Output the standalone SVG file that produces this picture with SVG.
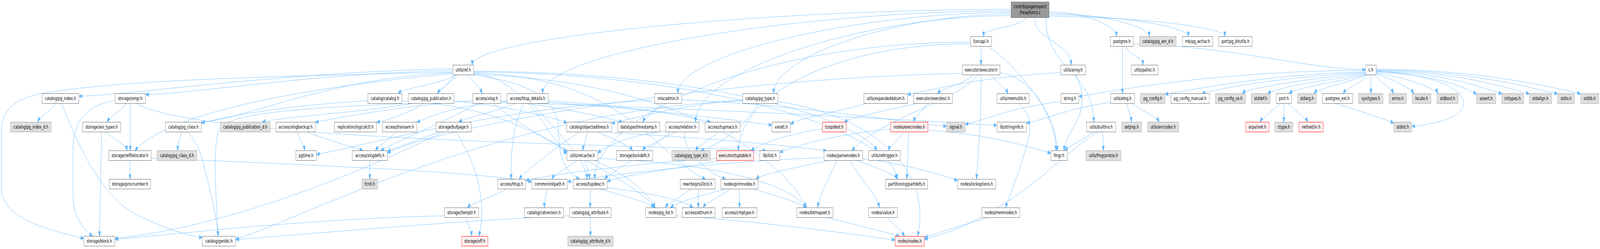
<svg xmlns="http://www.w3.org/2000/svg" width="6349" height="637" viewBox="0 0 6349 637" preserveAspectRatio="none">
<style>
svg{width:100vw;height:100vh}
.n rect{fill:#ffffff;stroke:#666666;stroke-width:1}
.g rect{fill:#e0e0e0;stroke:#999999;stroke-width:1}
.r rect{fill:#fff0f0;stroke:#ff0000;stroke-width:1}
.root rect{fill:#999999;stroke:#666666;stroke-width:1}
text{font-family:"DejaVu Sans","Liberation Sans",sans-serif;font-size:13px;text-anchor:middle;fill:#000000}
#edges path{fill:none;stroke:#63b8ff;stroke-width:1;marker-end:url(#arr)}
</style>
<defs>
<marker id="arr" viewBox="0 0 13 10" refX="13" refY="5" markerWidth="13" markerHeight="10" markerUnits="userSpaceOnUse" orient="auto">
<path d="M0,0 L13,5 L0,10 z" fill="#63b8ff" stroke="#63b8ff" stroke-width="1"/>
</marker>
</defs>
<rect width="6349" height="637" fill="#ffffff"/>
<g id="edges">
<path d="M4068,45 C4068,69 3903,69 3903,93.5"/>
<path d="M4163,30 C4283,30 4430,62 4430,93.5"/>
<path d="M4163,34 C4342,34 4560,64 4560,93.5"/>
<path d="M4163,38 C4411,38 4715,66 4715,93.5"/>
<path d="M4163,42 C4477,42 4860,68 4860,93.5"/>
<path d="M4105,45 C4105,106 4250,106 4250,166.5"/>
<path d="M4012,24 C3050,24 1874,95 1874,166.5"/>
<path d="M4012,28 C3175,28 2153,134 2153,239.5"/>
<path d="M4012,32 C3417,32 2690,136 2690,239.5"/>
<path d="M4012,36 C3588,36 3070,138 3070,239.5"/>
<path d="M4012,40 C3449,40 2760,176 2760,312.5"/>
<path d="M4150,45 C4150,180 4340,180 4340,312.5"/>
<path d="M3893,118.5 C3893,142 3893,142 3893,166.5"/>
<path d="M3921,118.5 C4000,150 4195,280 4195,385.5"/>
<path d="M3851,108 C3000,108 2360,300 2360,458.5"/>
<path d="M3851,112 C3300,112 2930,250 2930,385.5"/>
<path d="M4454,118.5 C4454,180 4454,180 4454,239.5"/>
<path d="M4470,118.5 C4470,142 4535,142 4535,166.5"/>
<path d="M4498,112 C4900,120 5200,178 5419,178"/>
<path d="M1797,176 C1100,185 500,245 313,246"/>
<path d="M1797,180 C1200,190 800,238 577,242"/>
<path d="M1797,184 C1200,195 500,200 160,240 C40,255 5,290 5,340 L5,480 C5,560 200,590 333,610"/>
<path d="M1810,191.5 C1750,215 1600,225 1580,239.5"/>
<path d="M1817,191.5 C1790,210 1750,225 1735,239.5"/>
<path d="M1854,191.5 C1880,210 1905,225 1914,239.5"/>
<path d="M1797,186 C1300,200 1000,300 799,313"/>
<path d="M1797,188 C1100,230 650,300 535,385.5"/>
<path d="M1805,191.5 C1700,280 1550,305 1494,313"/>
<path d="M1870,191.5 C2050,205 2216,240 2216,330 C2216,400 2240,440 2300,458.5"/>
<path d="M1880,188 C2100,200 2200,380 2250,392"/>
<path d="M1880,182 C2800,185 3400,300 3480,385.5"/>
<path d="M1880,184 C2900,190 3550,350 3560,458.5"/>
<path d="M1880,186 C2500,200 2600,400 2800,458.5"/>
<path d="M1880,190 C2800,210 3150,450 3200,531.5"/>
<path d="M3860,191.5 C3830,215 3740,225 3720,239.5"/>
<path d="M3935,191.5 C3960,215 3990,225 4000,239.5"/>
<path d="M3968,186 C4100,200 4190,300 4190,385.5"/>
<path d="M3893,191.5 C3893,330 3880,400 3875,458.5"/>
<path d="M3880,191.5 C3800,260 3500,300 3380,385.5"/>
<path d="M3818,188 C2800,200 1700,330 1537,392"/>
<path d="M4268,191.5 C4300,230 4300,270 4280,300 C4250,340 4225,360 4222,385.5"/>
<path d="M4209,186 C3900,195 3700,230 3601,242"/>
<path d="M5419,180 C4800,182 4400,235 4281,247"/>
<path d="M5419,184 C5000,190 4700,235 4623,241"/>
<path d="M5419,186 C5100,195 4800,230 4770,239.5"/>
<path d="M5419,188 C5200,200 4950,225 4930,239.5"/>
<path d="M5419,190 C5250,205 5060,225 5030,239.5"/>
<path d="M5422,191.5 C5300,210 5140,225 5115,239.5"/>
<path d="M5425,191.5 C5350,212 5230,225 5215,239.5"/>
<path d="M5430,191.5 C5400,212 5340,228 5330,239.5"/>
<path d="M5440,191.5 C5440,215 5440,215 5440,239.5"/>
<path d="M5455,191.5 C5480,212 5520,225 5530,239.5"/>
<path d="M5461,189 C5540,205 5600,228 5610,239.5"/>
<path d="M5461,187 C5600,200 5700,230 5705,239.5"/>
<path d="M5461,185 C5700,190 5820,225 5860,241"/>
<path d="M5461,183 C5750,185 5900,230 5960,240"/>
<path d="M5461,181 C5800,182 6000,230 6069,240"/>
<path d="M5461,179 C5850,180 6100,230 6181,240"/>
<path d="M5461,177 C5900,178 6200,230 6272,240"/>
<path d="M5461,182 C5700,190 5810,230 5808,265 C5805,300 5700,318 5602,323"/>
<path d="M220,264.5 C200,285 160,295 150,312.5"/>
<path d="M245,264.5 C300,360 400,500 530,545 C620,575 720,600 803,608"/>
<path d="M500,264.5 C480,285 440,295 425,312.5"/>
<path d="M517,264.5 C517,330 517,330 517,385.5"/>
<path d="M457,257 C330,270 290,320 290,380 L290,500 C290,560 340,590 368,604.5"/>
<path d="M540,264.5 C800,360 2500,370 3040,385.5"/>
<path d="M1460,258 C1100,270 850,305 799,315"/>
<path d="M1595,258 C2000,270 2200,370 2250,388"/>
<path d="M1640,264.5 C1400,290 1100,300 1040,312.5"/>
<path d="M1801,258 C2000,270 2200,300 2250,315"/>
<path d="M1640,264.5 C1200,275 900,290 870,330 C840,380 860,520 866,604.5"/>
<path d="M1876,258 C1600,270 1350,300 1251,313"/>
<path d="M1900,264.5 C1700,330 1550,370 1510,385.5"/>
<path d="M1987,258 C2200,270 2400,300 2470,312.5"/>
<path d="M1987,262 C2900,280 3700,310 3956,321"/>
<path d="M1960,264.5 C2100,350 2500,450 2600,531.5"/>
<path d="M2078,264.5 C2030,330 2028,400 2028,458.5"/>
<path d="M2012,258 C1800,270 1700,300 1654,313"/>
<path d="M2110,264.5 C2200,330 2320,400 2330,458.5"/>
<path d="M2175,258 C2500,270 2750,300 2820,312.5"/>
<path d="M2045,264.5 C1950,290 1850,300 1820,312.5"/>
<path d="M2175,262 C2600,280 2950,310 3063,320"/>
<path d="M2705,255 C3200,270 3600,315 3756,323"/>
<path d="M2630,264.5 C2600,285 2560,300 2550,312.5"/>
<path d="M2598,257 C2000,270 1400,380 1255,395"/>
<path d="M3010,264.5 C2950,330 2850,370 2780,385.5"/>
<path d="M2947,258 C2000,280 1200,560 935,612"/>
<path d="M2947,255 C2700,268 2500,305 2427,316"/>
<path d="M3087,260 C3500,300 3700,450 3640,604.5"/>
<path d="M3440,264.5 C3300,290 3180,300 3137,318"/>
<path d="M3680,264.5 C3660,285 3630,300 3625,312.5"/>
<path d="M3640,264.5 C3500,285 3380,300 3350,312.5"/>
<path d="M4040,264.5 C4090,290 4090,320 4085,340 C4060,420 4010,490 3990,531.5"/>
<path d="M4210,260 C4000,275 3900,310 3830,318"/>
<path d="M4470,264.5 C4480,285 4488,300 4490,312.5"/>
<path d="M4490,264.5 C4540,285 4590,300 4600,312.5"/>
<path d="M4407,262 C4250,275 4150,305 4073,315"/>
<path d="M5080,264.5 C5050,285 5010,300 5000,312.5"/>
<path d="M5094.5,264.5 C5094.5,290 5094.5,290 5094.5,312.5"/>
<path d="M5110,264.5 C5140,285 5180,300 5190,312.5"/>
<path d="M5300,264.5 C5400,285 5500,305 5531,315"/>
<path d="M403,337.5 C400,450 396,550 395,604.5"/>
<path d="M420,337.5 C460,360 500,370 505,385.5"/>
<path d="M720,337.5 C712,360 705,370 705,385.5"/>
<path d="M745,337.5 C790,370 800,400 815,440 C840,500 860,560 866,604.5"/>
<path d="M1180,337.5 C1190,360 1205,370 1210,385.5"/>
<path d="M1220,337.5 C1300,360 1400,375 1440,385.5"/>
<path d="M1570,337.5 C1540,360 1500,375 1490,385.5"/>
<path d="M1810,337.5 C1900,430 1930,520 1900,604.5"/>
<path d="M1760,337.5 C1400,450 900,580 456,610"/>
<path d="M1745,337.5 C1650,360 1560,380 1537,388"/>
<path d="M2330,337.5 C2325,360 2315,375 2312,385.5"/>
<path d="M2370,337.5 C2450,360 2500,375 2510,385.5"/>
<path d="M2300,337.5 C2200,380 2080,440 2060,458.5"/>
<path d="M2427,340 C2900,355 3200,380 3280,385.5"/>
<path d="M2642,335 C2500,345 2400,375 2372,392"/>
<path d="M2680,337.5 C2620,360 2560,375 2550,385.5"/>
<path d="M2720,337.5 C2700,380 2800,440 2880,458.5"/>
<path d="M2660,337.5 C2550,400 2420,440 2400,458.5"/>
<path d="M2850,337.5 C2810,360 2770,375 2760,385.5"/>
<path d="M3263,330 C3100,345 3000,375 2980,385.5"/>
<path d="M3590,337.5 C3560,360 3530,375 3525,385.5"/>
<path d="M3605,337.5 C3603,400 3600,440 3598,458.5"/>
<path d="M3534,330 C3300,345 3150,375 3094,390"/>
<path d="M3682,333 C3950,345 4100,380 4170,392"/>
<path d="M4340,337.5 C4290,360 4240,375 4225,385.5"/>
<path d="M4375,337.5 C4377,360 4378,360 4378,385.5"/>
<path d="M4355,337.5 C4200,400 4000,560 3668,612"/>
<path d="M516,410.5 C516,435 516,435 516,458.5"/>
<path d="M600,405 C1200,420 1900,440 2110,465"/>
<path d="M1467.5,410.5 C1467.5,435 1467.5,435 1467.5,458.5"/>
<path d="M2290,410.5 C2250,430 2200,445 2190,458.5"/>
<path d="M2320,410.5 C2330,430 2338,445 2340,458.5"/>
<path d="M2372,405 C2900,420 3150,480 3200,531.5"/>
<path d="M2360,410.5 C2500,450 2580,500 2600,531.5"/>
<path d="M2843,405 C2500,420 2200,445 2086,462"/>
<path d="M2860,410.5 C2700,430 2450,450 2409,465"/>
<path d="M3320,410.5 C3280,470 3250,500 3245,531.5"/>
<path d="M3370,410.5 C3430,470 3480,500 3490,531.5"/>
<path d="M3400,410.5 C3480,430 3550,445 3560,458.5"/>
<path d="M3423,406 C3600,420 3750,450 3800,462"/>
<path d="M3290,410.5 C3150,430 3020,445 3000,458.5"/>
<path d="M3270,403 C2800,415 2400,450 2252,465"/>
<path d="M2010,483.5 C1950,505 1870,520 1855,531.5"/>
<path d="M2170,483.5 C2165,505 2160,520 2160,531.5"/>
<path d="M2342,483.5 C2342,505 2342,505 2342,531.5"/>
<path d="M2380,483.5 C2500,505 2580,520 2595,531.5"/>
<path d="M2409,480 C2600,495 2720,515 2750,531.5"/>
<path d="M2770,483.5 C2771,505 2771,505 2771,531.5"/>
<path d="M2740,483.5 C2700,505 2650,520 2640,531.5"/>
<path d="M2900,483.5 C2850,505 2800,520 2790,531.5"/>
<path d="M2934.5,483.5 C2934.5,505 2934.5,505 2934.5,531.5"/>
<path d="M2880,483.5 C2750,505 2680,520 2660,531.5"/>
<path d="M2990,483.5 C3100,505 3180,520 3200,531.5"/>
<path d="M1764,552 C1200,560 700,600 456,612"/>
<path d="M1845,556.5 C1860,575 1870,590 1872,604.5"/>
<path d="M2342.5,556.5 C2342.5,580 2343,580 2343,604.5"/>
<path d="M2260,552 C1800,565 1200,600 935,613"/>
<path d="M2683,552 C3000,565 3400,600 3552,614"/>
<path d="M3280,556.5 C3400,575 3520,595 3570,604.5"/>
<path d="M3520,556.5 C3550,575 3580,595 3590,604.5"/>
<path d="M3920,556.5 C3800,580 3700,600 3668,608"/>
</g>
<g id="node-root" class="root"><rect x="4012" y="5" width="151" height="40"/><text x="4087.5" y="21">contrib/pageinspect</text><text x="4087.5" y="36">/heapfuncs.c</text></g>
<g id="node-funcapi" class="n"><rect x="3851" y="93.5" width="84" height="25"/><text x="3893" y="110.5">funcapi.h</text></g>
<g id="node-postgres" class="n"><rect x="4406" y="93.5" width="92" height="25"/><text x="4452" y="110.5">postgres.h</text></g>
<g id="node-pg_am_d" class="g"><rect x="4522" y="93.5" width="145" height="25"/><text x="4594.5" y="110.5">catalog/pg_am_d.h</text></g>
<g id="node-pg_wchar" class="n"><rect x="4692" y="93.5" width="120" height="25"/><text x="4752" y="110.5">mb/pg_wchar.h</text></g>
<g id="node-pg_bitutils" class="n"><rect x="4836" y="93.5" width="133" height="25"/><text x="4902.5" y="110.5">port/pg_bitutils.h</text></g>
<g id="node-rel" class="n"><rect x="1797" y="166.5" width="83" height="25"/><text x="1838.5" y="183.5">utils/rel.h</text></g>
<g id="node-executor" class="n"><rect x="3818" y="166.5" width="150" height="25"/><text x="3893" y="183.5">executor/executor.h</text></g>
<g id="node-array" class="n"><rect x="4209" y="166.5" width="99" height="25"/><text x="4258.5" y="183.5">utils/array.h</text></g>
<g id="node-palloc" class="n"><rect x="4489" y="166.5" width="106" height="25"/><text x="4542" y="183.5">utils/palloc.h</text></g>
<g id="node-c" class="n"><rect x="5419" y="166.5" width="42" height="25"/><text x="5440" y="183.5">c.h</text></g>
<g id="node-pg_index" class="n"><rect x="167" y="239.5" width="146" height="25"/><text x="240" y="256.5">catalog/pg_index.h</text></g>
<g id="node-smgr" class="n"><rect x="457" y="239.5" width="120" height="25"/><text x="517" y="256.5">storage/smgr.h</text></g>
<g id="node-catalog" class="n"><rect x="1460" y="239.5" width="135" height="25"/><text x="1527.5" y="256.5">catalog/catalog.h</text></g>
<g id="node-pg_publication" class="n"><rect x="1620" y="239.5" width="181" height="25"/><text x="1710.5" y="256.5">catalog/pg_publication.h</text></g>
<g id="node-xlog" class="n"><rect x="1876" y="239.5" width="111" height="25"/><text x="1931.5" y="256.5">access/xlog.h</text></g>
<g id="node-htup_details" class="n"><rect x="2012" y="239.5" width="163" height="25"/><text x="2093.5" y="256.5">access/htup_details.h</text></g>
<g id="node-miscadmin" class="n"><rect x="2598" y="239.5" width="107" height="25"/><text x="2651.5" y="256.5">miscadmin.h</text></g>
<g id="node-pg_type" class="n"><rect x="2947" y="239.5" width="140" height="25"/><text x="3017" y="256.5">catalog/pg_type.h</text></g>
<g id="node-expandeddatum" class="n"><rect x="3428" y="239.5" width="173" height="25"/><text x="3514.5" y="256.5">utils/expandeddatum.h</text></g>
<g id="node-execdesc" class="n"><rect x="3625" y="239.5" width="155" height="25"/><text x="3702.5" y="256.5">executor/execdesc.h</text></g>
<g id="node-memutils" class="n"><rect x="3956" y="239.5" width="128" height="25"/><text x="4020" y="256.5">utils/memutils.h</text></g>
<g id="node-string" class="n"><rect x="4210" y="239.5" width="71" height="25"/><text x="4245.5" y="256.5">string.h</text></g>
<g id="node-elog" class="n"><rect x="4407" y="239.5" width="95" height="25"/><text x="4454.5" y="256.5">utils/elog.h</text></g>
<g id="node-pg_config" class="g"><rect x="4526" y="239.5" width="97" height="25"/><text x="4574.5" y="256.5">pg_config.h</text></g>
<g id="node-pg_config_manual" class="n"><rect x="4646" y="239.5" width="153" height="25"/><text x="4722.5" y="256.5">pg_config_manual.h</text></g>
<g id="node-pg_config_os" class="g"><rect x="4823" y="239.5" width="119" height="25"/><text x="4882.5" y="256.5">pg_config_os.h</text></g>
<g id="node-stddef" class="g"><rect x="4965" y="239.5" width="75" height="25"/><text x="5002.5" y="256.5">stddef.h</text></g>
<g id="node-port" class="n"><rect x="5064" y="239.5" width="61" height="25"/><text x="5094.5" y="256.5">port.h</text></g>
<g id="node-stdarg" class="g"><rect x="5149" y="239.5" width="75" height="25"/><text x="5186.5" y="256.5">stdarg.h</text></g>
<g id="node-postgres_ext" class="n"><rect x="5248" y="239.5" width="120" height="25"/><text x="5308" y="256.5">postgres_ext.h</text></g>
<g id="node-sys_types" class="g"><rect x="5391" y="239.5" width="97" height="25"/><text x="5439.5" y="256.5">sys/types.h</text></g>
<g id="node-errno" class="g"><rect x="5512" y="239.5" width="69" height="25"/><text x="5546.5" y="256.5">errno.h</text></g>
<g id="node-locale" class="g"><rect x="5604" y="239.5" width="74" height="25"/><text x="5641" y="256.5">locale.h</text></g>
<g id="node-stdbool" class="g"><rect x="5702" y="239.5" width="84" height="25"/><text x="5744" y="256.5">stdbool.h</text></g>
<g id="node-assert" class="g"><rect x="5859" y="239.5" width="76" height="25"/><text x="5897" y="256.5">assert.h</text></g>
<g id="node-inttypes" class="g"><rect x="5959" y="239.5" width="87" height="25"/><text x="6002.5" y="256.5">inttypes.h</text></g>
<g id="node-stdalign" class="g"><rect x="6069" y="239.5" width="88" height="25"/><text x="6113" y="256.5">stdalign.h</text></g>
<g id="node-stdio" class="g"><rect x="6181" y="239.5" width="67" height="25"/><text x="6214.5" y="256.5">stdio.h</text></g>
<g id="node-stdlib" class="g"><rect x="6272" y="239.5" width="72" height="25"/><text x="6308" y="256.5">stdlib.h</text></g>
<g id="node-pg_index_d" class="g"><rect x="42" y="312.5" width="161" height="25"/><text x="122.5" y="329.5">catalog/pg_index_d.h</text></g>
<g id="node-aio_types" class="n"><rect x="328" y="312.5" width="151" height="25"/><text x="403.5" y="329.5">storage/aio_types.h</text></g>
<g id="node-pg_class" class="n"><rect x="656" y="312.5" width="143" height="25"/><text x="727.5" y="329.5">catalog/pg_class.h</text></g>
<g id="node-pg_publication_d" class="g"><rect x="875" y="312.5" width="197" height="25"/><text x="973.5" y="329.5">catalog/pg_publication_d.h</text></g>
<g id="node-xlogbackup" class="n"><rect x="1095" y="312.5" width="156" height="25"/><text x="1173" y="329.5">access/xlogbackup.h</text></g>
<g id="node-logicalctl" class="n"><rect x="1327" y="312.5" width="167" height="25"/><text x="1410.5" y="329.5">replication/logicalctl.h</text></g>
<g id="node-transam" class="n"><rect x="1518" y="312.5" width="136" height="25"/><text x="1586" y="329.5">access/transam.h</text></g>
<g id="node-bufpage" class="n"><rect x="1730" y="312.5" width="140" height="25"/><text x="1800" y="329.5">storage/bufpage.h</text></g>
<g id="node-objectaddress" class="n"><rect x="2249" y="312.5" width="178" height="25"/><text x="2338" y="329.5">catalog/objectaddress.h</text></g>
<g id="node-timestamp" class="n"><rect x="2451" y="312.5" width="167" height="25"/><text x="2534.5" y="329.5">datatype/timestamp.h</text></g>
<g id="node-relation" class="n"><rect x="2642" y="312.5" width="132" height="25"/><text x="2708" y="329.5">access/relation.h</text></g>
<g id="node-tupmacs" class="n"><rect x="2798" y="312.5" width="139" height="25"/><text x="2867.5" y="329.5">access/tupmacs.h</text></g>
<g id="node-varatt" class="n"><rect x="3063" y="312.5" width="74" height="25"/><text x="3100" y="329.5">varatt.h</text></g>
<g id="node-dest" class="r"><rect x="3263" y="312.5" width="95" height="25"/><text x="3310.5" y="329.5">tcop/dest.h</text></g>
<g id="node-execnodes" class="r"><rect x="3534" y="312.5" width="148" height="25"/><text x="3608" y="329.5">nodes/execnodes.h</text></g>
<g id="node-signal" class="g"><rect x="3756" y="312.5" width="74" height="25"/><text x="3793" y="329.5">signal.h</text></g>
<g id="node-stringinfo" class="n"><rect x="3956" y="312.5" width="117" height="25"/><text x="4014.5" y="329.5">lib/stringinfo.h</text></g>
<g id="node-builtins" class="n"><rect x="4312" y="312.5" width="115" height="25"/><text x="4369.5" y="329.5">utils/builtins.h</text></g>
<g id="node-setjmp" class="g"><rect x="4451" y="312.5" width="79" height="25"/><text x="4490.5" y="329.5">setjmp.h</text></g>
<g id="node-errcodes" class="g"><rect x="4554" y="312.5" width="123" height="25"/><text x="4615.5" y="329.5">utils/errcodes.h</text></g>
<g id="node-arpa_inet" class="r"><rect x="4943" y="312.5" width="93" height="25"/><text x="4989.5" y="329.5">arpa/inet.h</text></g>
<g id="node-ctype" class="g"><rect x="5059" y="312.5" width="71" height="25"/><text x="5094.5" y="329.5">ctype.h</text></g>
<g id="node-netinet_in" class="r"><rect x="5154" y="312.5" width="97" height="25"/><text x="5202.5" y="329.5">netinet/in.h</text></g>
<g id="node-stdint" class="g"><rect x="5531" y="312.5" width="71" height="25"/><text x="5566.5" y="329.5">stdint.h</text></g>
<g id="node-relfilelocator" class="n"><rect x="432" y="385.5" width="168" height="25"/><text x="516" y="402.5">storage/relfilelocator.h</text></g>
<g id="node-pg_class_d" class="g"><rect x="623" y="385.5" width="158" height="25"/><text x="702" y="402.5">catalog/pg_class_d.h</text></g>
<g id="node-pgtime" class="n"><rect x="1174" y="385.5" width="81" height="25"/><text x="1214.5" y="402.5">pgtime.h</text></g>
<g id="node-xlogdefs" class="n"><rect x="1398" y="385.5" width="139" height="25"/><text x="1467.5" y="402.5">access/xlogdefs.h</text></g>
<g id="node-relcache" class="n"><rect x="2250" y="385.5" width="122" height="25"/><text x="2311" y="402.5">utils/relcache.h</text></g>
<g id="node-lockdefs" class="n"><rect x="2447" y="385.5" width="143" height="25"/><text x="2518.5" y="402.5">storage/lockdefs.h</text></g>
<g id="node-pg_type_d" class="g"><rect x="2666" y="385.5" width="153" height="25"/><text x="2742.5" y="402.5">catalog/pg_type_d.h</text></g>
<g id="node-tuptable" class="r"><rect x="2843" y="385.5" width="148" height="25"/><text x="2917" y="402.5">executor/tuptable.h</text></g>
<g id="node-ilist" class="n"><rect x="3015" y="385.5" width="79" height="25"/><text x="3054.5" y="402.5">lib/ilist.h</text></g>
<g id="node-parsenodes" class="n"><rect x="3270" y="385.5" width="153" height="25"/><text x="3346.5" y="402.5">nodes/parsenodes.h</text></g>
<g id="node-reltrigger" class="n"><rect x="3447" y="385.5" width="125" height="25"/><text x="3509.5" y="402.5">utils/reltrigger.h</text></g>
<g id="node-fmgr" class="n"><rect x="4170" y="385.5" width="65" height="25"/><text x="4202.5" y="402.5">fmgr.h</text></g>
<g id="node-fmgrprotos" class="g"><rect x="4309" y="385.5" width="139" height="25"/><text x="4378.5" y="402.5">utils/fmgrprotos.h</text></g>
<g id="node-procnumber" class="n"><rect x="434" y="458.5" width="164" height="25"/><text x="516" y="475.5">storage/procnumber.h</text></g>
<g id="node-fcntl" class="g"><rect x="1436" y="458.5" width="63" height="25"/><text x="1467.5" y="475.5">fcntl.h</text></g>
<g id="node-htup" class="n"><rect x="1975" y="458.5" width="111" height="25"/><text x="2030.5" y="475.5">access/htup.h</text></g>
<g id="node-relpath" class="n"><rect x="2110" y="458.5" width="142" height="25"/><text x="2181" y="475.5">common/relpath.h</text></g>
<g id="node-tupdesc" class="n"><rect x="2275" y="458.5" width="134" height="25"/><text x="2342" y="475.5">access/tupdesc.h</text></g>
<g id="node-prs2lock" class="n"><rect x="2699" y="458.5" width="138" height="25"/><text x="2768" y="475.5">rewrite/prs2lock.h</text></g>
<g id="node-primnodes" class="n"><rect x="2861" y="458.5" width="147" height="25"/><text x="2934.5" y="475.5">nodes/primnodes.h</text></g>
<g id="node-partdefs" class="n"><rect x="3514" y="458.5" width="167" height="25"/><text x="3597.5" y="475.5">partitioning/partdefs.h</text></g>
<g id="node-lockoptions" class="n"><rect x="3800" y="458.5" width="151" height="25"/><text x="3875.5" y="475.5">nodes/lockoptions.h</text></g>
<g id="node-itemptr" class="n"><rect x="1764" y="531.5" width="135" height="25"/><text x="1831.5" y="548.5">storage/itemptr.h</text></g>
<g id="node-catversion" class="n"><rect x="2081" y="531.5" width="155" height="25"/><text x="2158.5" y="548.5">catalog/catversion.h</text></g>
<g id="node-pg_attribute" class="n"><rect x="2260" y="531.5" width="165" height="25"/><text x="2342.5" y="548.5">catalog/pg_attribute.h</text></g>
<g id="node-pg_list" class="n"><rect x="2562" y="531.5" width="121" height="25"/><text x="2622.5" y="548.5">nodes/pg_list.h</text></g>
<g id="node-attnum" class="n"><rect x="2707" y="531.5" width="130" height="25"/><text x="2772" y="548.5">access/attnum.h</text></g>
<g id="node-cmptype" class="n"><rect x="2865" y="531.5" width="139" height="25"/><text x="2934.5" y="548.5">access/cmptype.h</text></g>
<g id="node-bitmapset" class="n"><rect x="3162" y="531.5" width="143" height="25"/><text x="3233.5" y="548.5">nodes/bitmapset.h</text></g>
<g id="node-value" class="n"><rect x="3447" y="531.5" width="114" height="25"/><text x="3504" y="548.5">nodes/value.h</text></g>
<g id="node-memnodes" class="n"><rect x="3896" y="531.5" width="151" height="25"/><text x="3971.5" y="548.5">nodes/memnodes.h</text></g>
<g id="node-block" class="n"><rect x="333" y="604.5" width="123" height="25"/><text x="394.5" y="621.5">storage/block.h</text></g>
<g id="node-genbki" class="n"><rect x="803" y="604.5" width="132" height="25"/><text x="869" y="621.5">catalog/genbki.h</text></g>
<g id="node-off" class="r"><rect x="1832" y="604.5" width="104" height="25"/><text x="1884" y="621.5">storage/off.h</text></g>
<g id="node-pg_attribute_d" class="g"><rect x="2253" y="604.5" width="180" height="25"/><text x="2343" y="621.5">catalog/pg_attribute_d.h</text></g>
<g id="node-nodes" class="r"><rect x="3552" y="604.5" width="116" height="25"/><text x="3610" y="621.5">nodes/nodes.h</text></g>
</svg>
